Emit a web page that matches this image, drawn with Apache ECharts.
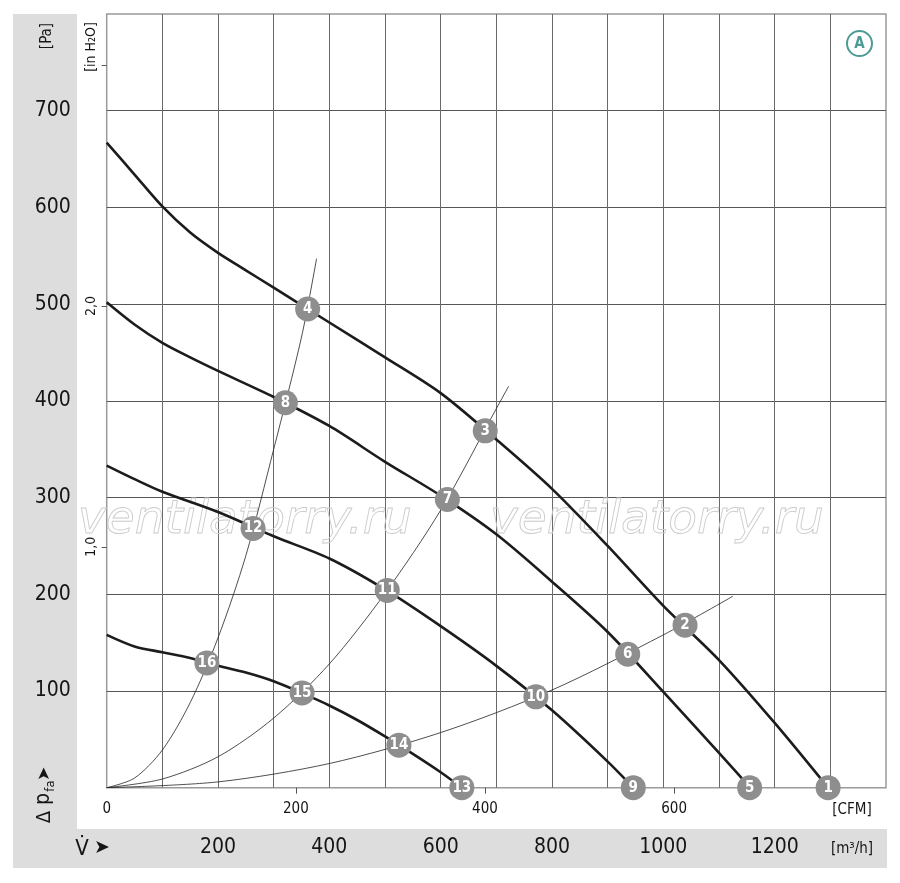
<!DOCTYPE html>
<html>
<head>
<meta charset="utf-8">
<script src="https://cdn.jsdelivr.net/npm/echarts@6/dist/echarts.min.js"></script>
<style>
  html, body { margin: 0; padding: 0; background: #fff; }
  #chart { width: 900px; height: 883px; }
</style>
</head>
<body>
<div id="chart"></div>
<script>
// ---- data (x in m³/h, y in Pa) ----
const fanCurve1 = [[0,667],[50,634],[100,601],[150,574],[200,553],[250,535],[300,517],[400,481],[500,445],[600,408],[700,360],[800,309],[900,250],[1000,188],[1100,132],[1200,67],[1296,0]];
const fanCurve2 = [[0,502],[50,479],[100,460],[150,445],[200,431],[300,404],[400,374],[500,337],[600,302],[700,262],[800,213],[900,161],[1000,99],[1100,36],[1156,0]];
const fanCurve3 = [[0,333],[50,319],[100,306],[200,285],[300,260],[400,237],[500,205],[600,167],[700,126],[800,80],[900,27],[946,0]];
const fanCurve4 = [[0,158],[50,146],[100,140],[150,134],[200,126],[250,119],[300,110],[350,98],[400,85],[450,70],[500,53],[550,35],[600,16],[638,0]];

const systemCurveA = [[0,0],[50,10],[100,39],[150,88],[200,155],[250,240],[300,350],[350,466],[377,547]];
const systemCurveB = [[0,0],[100,9],[200,32],[300,72],[400,128],[500,201],[600,287],[700,392],[722,415]];
const systemCurveC = [[0,0],[200,6],[400,25],[600,57],[800,101],[1000,158],[1125,198]];

const operatingPoints = [
  [1296,0,'1'],[1039,168,'2'],[680,369,'3'],[361,495,'4'],
  [1155,0,'5'],[936,138,'6'],[612,298,'7'],[321,398,'8'],
  [946,0,'9'],[771,94,'10'],[504,204,'11'],[263,268,'12'],
  [638,0,'13'],[525,44,'14'],[351,98,'15'],[180,129,'16']
];

const paLabels = [100,200,300,400,500,600,700];
const m3hLabels = [200,400,600,800,1000,1200];
const cfmLabels = [0,200,400,600];
const cfmTicks = [200,400,600];
const inH2OTicks = [1,2,3];
const inH2OLabels = [1,2];

const X_MAX_M3H = 1400;
const Y_MAX_PA = 800;
const M3H_PER_CFM = 1.69901;
const PA_PER_INH2O = 249.089;

const FONT = '"Liberation Sans Narrow","DejaVu Sans Condensed","Liberation Sans",sans-serif';
const TXT = '#151515';

const chart = echarts.init(document.getElementById('chart'), null, {renderer: 'canvas'});

function fanSeries(d) {
  return { type: 'line', data: d, smooth: 0.3, showSymbol: false, symbol: 'none',
    lineStyle: { color: '#1c1c1c', width: 2.6 }, z: 3, silent: true };
}
function sysSeries(d) {
  return { type: 'line', data: d, smooth: 0.3, showSymbol: false, symbol: 'none',
    lineStyle: { color: '#222', width: 0.8 }, z: 2, silent: true };
}

const option = {
  animation: false,
  backgroundColor: '#fff',
  grid: { left: 106.7, right: 14, top: 14, bottom: 95.3, show: true,
    borderColor: '#9a9a9a', borderWidth: 1.5, backgroundColor: 'transparent',
    containLabel: false, outerBoundsMode: 'none' },
  xAxis: [
    { type: 'value', min: 0, max: X_MAX_M3H, interval: 100, position: 'bottom',
      axisLine: { show: false }, axisTick: { show: false },
      axisLabel: { customValues: m3hLabels, margin: 49, fontFamily: FONT, fontSize: 21, color: TXT,
        formatter: v => String(v) },
      splitLine: { show: true, showMinLine: false, showMaxLine: false, lineStyle: { color: '#6a6a6a', width: 1 } } },
    { type: 'value', min: 0, max: X_MAX_M3H / M3H_PER_CFM, interval: 200, position: 'bottom', offset: 0,
      axisLine: { show: false },
      axisTick: { show: true, customValues: cfmTicks, length: 6, lineStyle: { color: '#555', width: 1 } },
      axisLabel: { customValues: cfmLabels, margin: 14, fontFamily: FONT, fontSize: 15, color: TXT,
        formatter: v => String(v) },
      splitLine: { show: false } }
  ],
  yAxis: [
    { type: 'value', min: 0, max: Y_MAX_PA, interval: 100, position: 'left',
      axisLine: { show: false }, axisTick: { show: false },
      axisLabel: { customValues: paLabels, margin: 36, fontFamily: FONT, fontSize: 21, color: TXT,
        formatter: v => String(v) },
      splitLine: { show: true, showMinLine: false, showMaxLine: false, lineStyle: { color: '#555', width: 1 } } },
    { type: 'value', min: 0, max: Y_MAX_PA / PA_PER_INH2O, interval: 1, position: 'left', offset: 0,
      axisLine: { show: false },
      axisTick: { show: true, customValues: inH2OTicks, length: 5, lineStyle: { color: '#555', width: 1 } },
      axisLabel: { customValues: inH2OLabels, rotate: 90, margin: 8, fontFamily: FONT, fontSize: 14, color: TXT,
        formatter: v => v.toFixed(1).replace('.', ',') },
      splitLine: { show: false } }
  ],
  series: [
    sysSeries(systemCurveA), sysSeries(systemCurveB), sysSeries(systemCurveC),
    fanSeries(fanCurve1), fanSeries(fanCurve2), fanSeries(fanCurve3), fanSeries(fanCurve4),
    { type: 'scatter', clip: false, z: 5, silent: true,
      data: operatingPoints.map(p => ({ value: [p[0], p[1]], name: p[2] })),
      symbol: 'circle', symbolSize: 25,
      itemStyle: { color: '#8e8e8e', opacity: 1 },
      label: { show: true, position: 'inside', formatter: '{b}', color: '#fff',
        fontFamily: FONT, fontWeight: 'bold', fontSize: 15 } }
  ],
  graphic: [
    // grey L-shaped band
    { type: 'rect', z: -10, shape: { x: 13, y: 14, width: 64, height: 854 }, style: { fill: '#dddddd' } },
    { type: 'rect', z: -10, shape: { x: 13, y: 829, width: 874, height: 39 }, style: { fill: '#dddddd' } },
    // watermark
    { type: 'text', z: 1, x: 78, y: 521, style: { text: 'ventilatorry.ru', font: 'oblique 47px "DejaVu Sans", sans-serif',
      fill: 'rgba(255,255,255,0)', stroke: '#cccccc', lineWidth: 0.9, verticalAlign: 'middle', align: 'left' } },
    { type: 'text', z: 1, x: 490, y: 521, style: { text: 'ventilatorry.ru', font: 'oblique 47px "DejaVu Sans", sans-serif',
      fill: 'rgba(255,255,255,0)', stroke: '#cccccc', lineWidth: 0.9, verticalAlign: 'middle', align: 'left' } },
    // axis titles
    { type: 'text', z: 10, x: 47, y: 36, rotation: Math.PI / 2, style: { text: '[Pa]', font: '15px ' + FONT, fill: TXT, align: 'center', verticalAlign: 'middle' } },
    { type: 'text', z: 10, x: 91, y: 47, rotation: Math.PI / 2, style: { text: '[in H₂O]', font: '14px ' + FONT, fill: TXT, align: 'center', verticalAlign: 'middle' } },
    { type: 'text', z: 10, x: 45, y: 817, rotation: Math.PI / 2, style: { text: 'Δ', font: '20px ' + FONT, fill: TXT, align: 'center', verticalAlign: 'middle' } },
    { type: 'text', z: 10, x: 44, y: 799, rotation: Math.PI / 2, style: { text: 'p', font: '21px ' + FONT, fill: TXT, align: 'center', verticalAlign: 'middle' } },
    { type: 'text', z: 10, x: 51, y: 786, rotation: Math.PI / 2, style: { text: 'fa', font: '13px ' + FONT, fill: TXT, align: 'center', verticalAlign: 'middle' } },
    { type: 'text', z: 10, x: 45, y: 774, rotation: Math.PI / 2, style: { text: '➤', font: '17px "DejaVu Sans", sans-serif', fill: TXT, align: 'center', verticalAlign: 'middle' } },
    { type: 'text', z: 10, x: 82, y: 849, style: { text: 'V̇', font: '22px ' + FONT, fill: TXT, align: 'center', verticalAlign: 'middle' } },
    { type: 'text', z: 10, x: 102, y: 848, style: { text: '➤', font: '19px "DejaVu Sans", sans-serif', fill: TXT, align: 'center', verticalAlign: 'middle' } },
    { type: 'text', z: 10, x: 852, y: 810, style: { text: '[CFM]', font: '15px ' + FONT, fill: TXT, align: 'center', verticalAlign: 'middle' } },
    { type: 'text', z: 10, x: 852, y: 849, style: { text: '[m³/h]', font: '15px ' + FONT, fill: TXT, align: 'center', verticalAlign: 'middle' } },
    // "A" badge
    { type: 'circle', z: 10, shape: { cx: 859.5, cy: 43.5, r: 12.5 }, style: { fill: '#fff', stroke: '#4e9b95', lineWidth: 2 } },
    { type: 'text', z: 11, x: 859.5, y: 44, style: { text: 'A', font: 'bold 15px ' + FONT, fill: '#4e9b95', align: 'center', verticalAlign: 'middle' } }
  ]
};
chart.setOption(option);
</script>
</body>
</html>
